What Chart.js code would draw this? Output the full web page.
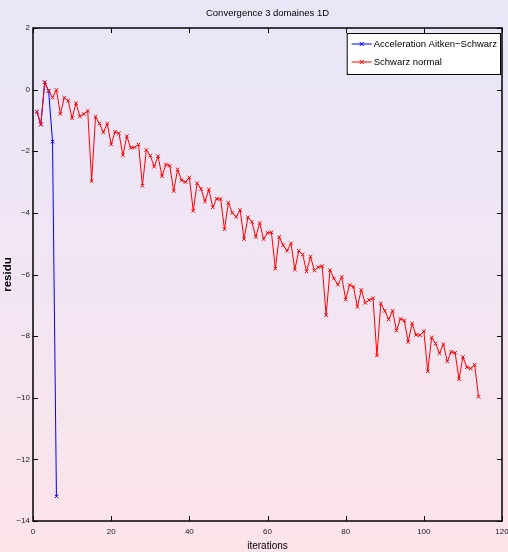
<!DOCTYPE html>
<html lang="fr">
  <head>
    <meta charset="UTF-8" />
    <script src="https://cdn.jsdelivr.net/npm/chart.js"></script>
    <style>
      html, body {
        margin: 0;
        padding: 0;
      }
      body {
        width: 508px;
        height: 552px;
        background: linear-gradient(to bottom, #e8e6f7 0%, #f1e5f3 50%, #fce4e8 100%);
      }
      #wrap {
        position: relative;
        width: 508px;
        height: 552px;
      }
    </style>
  </head>
  <body>
    <div id="wrap"><canvas id="conv"></canvas></div>

    <script>
      // Données
      const titre = "Convergence 3 domaines 1D";
      const xTicks = [0, 20, 40, 60, 80, 100, 120];
      const yTicks = [-14, -12, -10, -8, -6, -4, -2, 0, 2];

      // résidu (log) par itération, à partir de l'itération 1
      const aitkenSchwarz = [-0.72, -1.13, 0.24, -0.04, -1.69, -13.2];
      const schwarzNormal = [
        -0.72, -1.13, 0.24, -0.04, -0.26, -0.01, -0.79, -0.26, -0.36, -0.93,
        -0.44, -0.87, -0.79, -0.69, -2.97, -0.88, -1.10, -1.39, -1.10, -1.78,
        -1.37, -1.42, -2.13, -1.51, -1.89, -1.87, -1.78, -3.12, -1.96, -2.14,
        -2.50, -2.16, -2.81, -2.43, -2.47, -3.29, -2.59, -2.94, -3.00, -2.85,
        -3.93, -3.04, -3.22, -3.63, -3.24, -3.82, -3.54, -3.55, -4.53, -3.67,
        -4.00, -4.13, -3.91, -4.85, -4.14, -4.29, -4.78, -4.33, -4.85, -4.65,
        -4.63, -5.81, -4.78, -5.05, -5.23, -4.99, -5.84, -5.23, -5.35, -5.90,
        -5.42, -5.87, -5.76, -5.73, -7.32, -5.86, -6.13, -6.33, -6.08, -6.81,
        -6.34, -6.40, -7.05, -6.50, -6.92, -6.83, -6.77, -8.63, -6.94, -7.18,
        -7.46, -7.18, -7.82, -7.44, -7.49, -8.19, -7.59, -7.96, -7.97, -7.84,
        -9.14, -8.04, -8.24, -8.56, -8.26, -8.82, -8.51, -8.54, -9.40, -8.68,
        -9.01, -9.05, -8.93, -9.97
      ];

      const toPoints = (arr) => arr.map((v, i) => ({ x: i + 1, y: v }));
      const minus = (v) => String(v).replace("-", "\u2212");
      const FONT = "'Liberation Sans', Arial, sans-serif";

      // cadre + graduations vers l'intérieur (style matlab)
      const boxPlugin = {
        id: "box",
        afterDatasetsDraw(chart) {
          const { ctx, chartArea: a, scales } = chart;
          const L = 5;
          ctx.save();
          ctx.strokeStyle = "#000";
          ctx.lineWidth = 1;
          ctx.beginPath();
          xTicks.forEach((t) => {
            const px = Math.round(scales.x.getPixelForValue(t)) + 0.5;
            ctx.moveTo(px, a.bottom);
            ctx.lineTo(px, a.bottom - L);
            ctx.moveTo(px, a.top);
            ctx.lineTo(px, a.top + L);
          });
          yTicks.forEach((t) => {
            const py = Math.round(scales.y.getPixelForValue(t)) + 0.5;
            ctx.moveTo(a.left, py);
            ctx.lineTo(a.left + L, py);
            ctx.moveTo(a.right, py);
            ctx.lineTo(a.right - L, py);
          });
          ctx.stroke();
          ctx.lineWidth = 1.5;
          ctx.strokeRect(a.left, a.top, a.right - a.left, a.bottom - a.top);
          ctx.restore();
        },
        afterDraw(chart) {
          const { ctx, chartArea: a } = chart;
          const ds = chart.data.datasets;
          ctx.save();
          // titre centré sur la zone de tracé
          ctx.font = "9.5px " + FONT;
          ctx.fillStyle = "#000";
          ctx.textAlign = "center";
          ctx.textBaseline = "middle";
          ctx.fillText(titre, (a.left + a.right) / 2, 13.5);

          // légende encadrée en haut à droite
          ctx.textAlign = "left";
          const tw = Math.max(...ds.map((d) => ctx.measureText(d.label).width));
          const w = tw + 30;
          const h = 41;
          const x0 = a.right - 2 - w;
          const y0 = a.top + 5;
          ctx.fillStyle = "#fff";
          ctx.fillRect(x0, y0, w, h);
          ctx.strokeStyle = "#000";
          ctx.lineWidth = 1;
          ctx.strokeRect(x0 + 0.5, y0 + 0.5, w, h);
          ds.forEach((d, i) => {
            const y = y0 + 11 + i * 18;
            ctx.strokeStyle = d.borderColor;
            ctx.beginPath();
            ctx.moveTo(x0 + 5, y);
            ctx.lineTo(x0 + 25, y);
            const cx = x0 + 15;
            ctx.moveTo(cx - 2, y - 2);
            ctx.lineTo(cx + 2, y + 2);
            ctx.moveTo(cx - 2, y + 2);
            ctx.lineTo(cx + 2, y - 2);
            ctx.stroke();
            ctx.fillStyle = "#000";
            ctx.fillText(d.label, x0 + 27, y + 0.5);
          });
          ctx.restore();
        }
      };

      const ctx = document.getElementById("conv").getContext("2d");
      const chart = new Chart(ctx, {
        type: "line",
        data: {
          datasets: [
            {
              label: "Acceleration Aitken\u2212Schwarz",
              data: toPoints(aitkenSchwarz),
              borderColor: "#0000ff",
              backgroundColor: "#0000ff",
              borderWidth: 1,
              pointStyle: "crossRot",
              pointRadius: 2.5,
              pointBorderWidth: 1,
              tension: 0,
              order: 2
            },
            {
              label: "Schwarz normal",
              data: toPoints(schwarzNormal),
              borderColor: "#ff0000",
              backgroundColor: "#ff0000",
              borderWidth: 1,
              pointStyle: "crossRot",
              pointRadius: 2.5,
              pointBorderWidth: 1,
              tension: 0,
              order: 1
            }
          ]
        },
        options: {
          responsive: true,
          maintainAspectRatio: false,
          animation: false,
          layout: { padding: { left: 0, right: 6, top: 28, bottom: 0 } },
          plugins: {
            legend: { display: false },
            tooltip: { enabled: false },
            title: { display: false }
          },
          scales: {
            x: {
              type: "linear",
              min: 0,
              max: 120,
              afterBuildTicks: (s) => {
                s.ticks = xTicks.map((v) => ({ value: v }));
              },
              afterFit: (s) => {
                s.height = 31;
                s.paddingLeft = 0;
                s.paddingRight = 0;
              },
              grid: { display: false, drawTicks: false },
              border: { display: false },
              ticks: {
                color: "#222",
                padding: 6,
                maxRotation: 0,
                font: { family: FONT, size: 8 },
                callback: (v) => minus(v)
              },
              title: {
                display: true,
                text: "iterations",
                color: "#000",
                padding: { top: 0, bottom: 0 },
                font: { family: FONT, size: 10 }
              }
            },
            y: {
              type: "linear",
              min: -14,
              max: 2,
              afterBuildTicks: (s) => {
                s.ticks = yTicks.map((v) => ({ value: v }));
              },
              afterFit: (s) => {
                s.width = 33;
                s.paddingTop = 0;
                s.paddingBottom = 0;
              },
              grid: { display: false, drawTicks: false },
              border: { display: false },
              ticks: {
                color: "#222",
                padding: 3,
                font: { family: FONT, size: 8 },
                callback: (v) => minus(v)
              },
              title: {
                display: true,
                text: "residu",
                color: "#000",
                padding: { top: 1, bottom: 0 },
                font: { family: FONT, size: 11.5, weight: "bold" }
              }
            }
          }
        },
        plugins: [boxPlugin]
      });
    </script>
  </body>
</html>
